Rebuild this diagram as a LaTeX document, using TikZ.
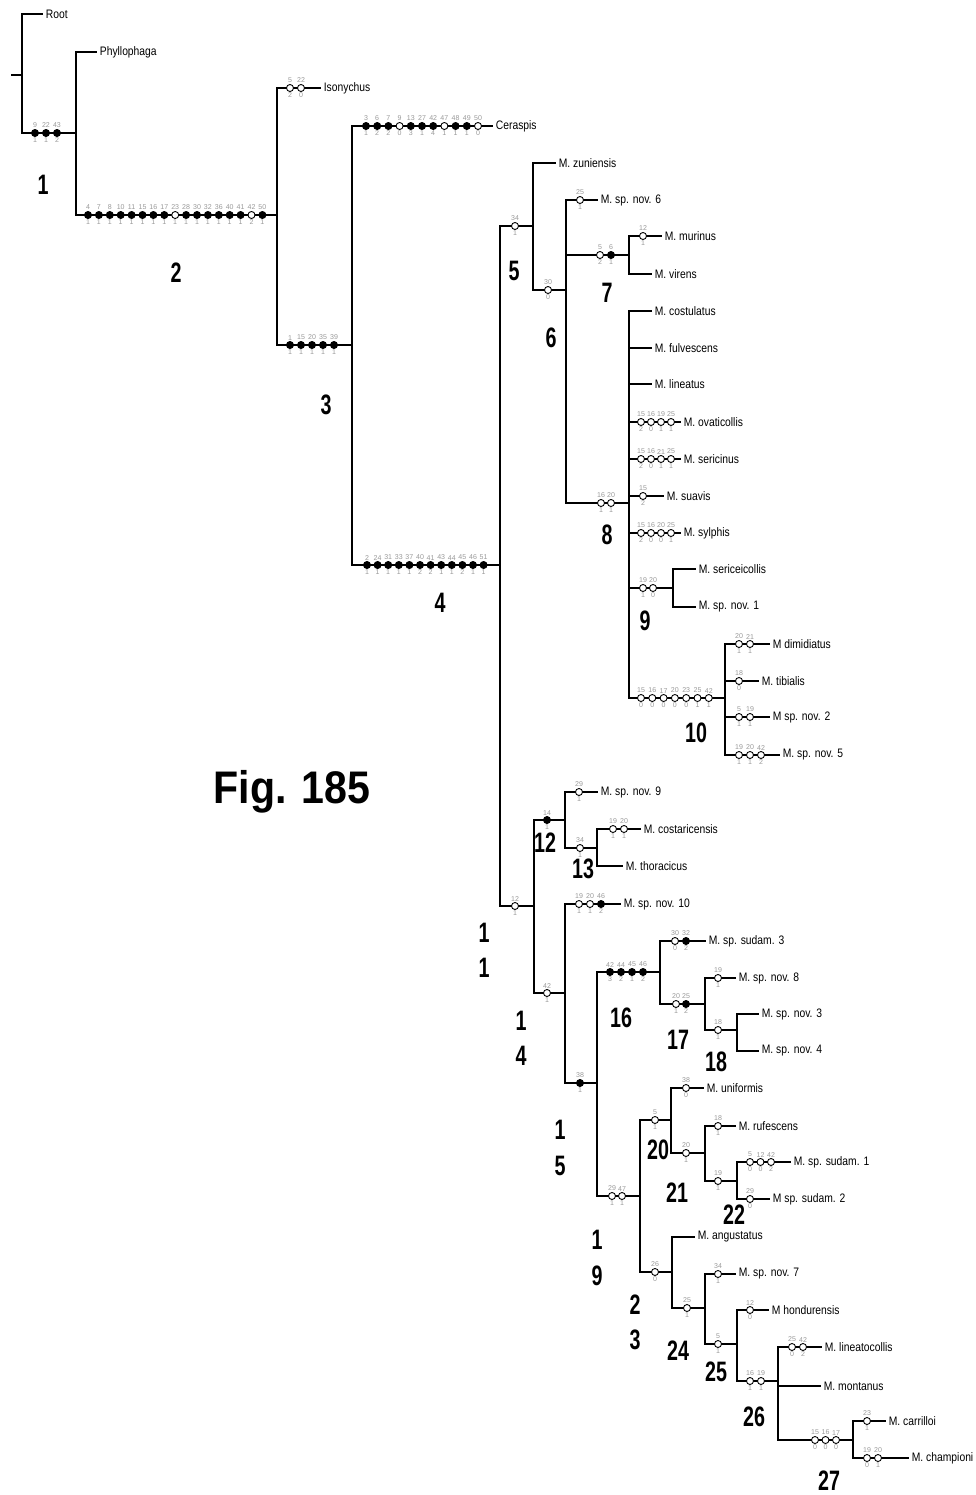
\documentclass[tikz,border=0pt]{standalone}
\usepackage{fontspec}
\setmainfont{Liberation Sans}
\newfontfamily\taxfont[FakeStretch=0.84]{Liberation Sans}
\newfontfamily\cladefont[FakeStretch=0.7]{Liberation Sans}
\newfontfamily\figfont[FakeStretch=0.9]{Liberation Sans}
\usetikzlibrary{positioning}

% one row of character marks on a branch: name, first x, y, spacing, fill/above/below
\newcommand{\charmarks}[5]{%
	\foreach \fl/\hi/\lo [count=\i from 0] in {#5}
		\node[chr, fill=\fl, label={[num]90:\hi}, label={[num]-90:\lo}] (#1-\i) at ({#2+\i*#4},#3) {};}

\begin{document}
\begin{tikzpicture}[x=0.02cm, y=-0.02cm,
		taxon/.style={anchor=west, font=\taxfont\fontsize{7}{8}\selectfont, inner xsep=2pt, inner ysep=1pt},
		clade/.style={font=\cladefont\bfseries\fontsize{16}{20}\selectfont, align=center, inner sep=0pt},
		chr/.style={circle, draw, line width=0.5pt, minimum size=4pt, inner sep=0pt},
		num/.style={font=\fontsize{4}{4}\selectfont, text=black!40, inner sep=0.4pt},
		branch/.style={line width=0.8pt, line cap=rect}]
		\useasboundingbox (0,0) rectangle (976,1495);
		% internal nodes of the tree
		\coordinate (base) at (12,75);
		\coordinate (c0) at (22,75);
		\coordinate (c1) at (76,133);
		\coordinate (c2) at (277,215);
		\coordinate (c3) at (352,345);
		\coordinate (c4) at (500,565);
		\coordinate (c5) at (533,226);
		\coordinate (c6) at (566,290);
		\coordinate (c7) at (629,255);
		\coordinate (c8) at (629,503);
		\coordinate (c9) at (673,588);
		\coordinate (c10) at (725,698);
		\coordinate (c11) at (534,906);
		\coordinate (c12) at (565,820);
		\coordinate (c13) at (597,848);
		\coordinate (c14) at (565,993);
		\coordinate (c15) at (597,1083);
		\coordinate (c16) at (660,972);
		\coordinate (c17) at (705,1004);
		\coordinate (c18) at (737,1030);
		\coordinate (c19) at (640,1196);
		\coordinate (c20) at (671,1120);
		\coordinate (c21) at (705,1153);
		\coordinate (c22) at (737,1181);
		\coordinate (c23) at (672,1272);
		\coordinate (c24) at (705,1308);
		\coordinate (c25) at (737,1344);
		\coordinate (c26) at (778,1381);
		\coordinate (c27) at (853,1440);
		% terminal taxa
		\node[taxon] (root) at (42,14) {Root};
		\node[taxon] (phyl) at (96,52) {Phyllophaga};
		\node[taxon] (ison) at (320,88) {Isonychus};
		\node[taxon] (cera) at (492,126) {Ceraspis};
		\node[taxon] (zuni) at (555,163) {M. zuniensis};
		\node[taxon] (nov6) at (597,200) {M. sp. nov. 6};
		\node[taxon] (muri) at (661,236) {M. murinus};
		\node[taxon] (vire) at (651,274) {M. virens};
		\node[taxon] (cost) at (651,311) {M. costulatus};
		\node[taxon] (fulv) at (651,348) {M. fulvescens};
		\node[taxon] (line) at (651,384) {M. lineatus};
		\node[taxon] (ovat) at (680,422) {M. ovaticollis};
		\node[taxon] (seri) at (680,459) {M. sericinus};
		\node[taxon] (suav) at (663,496) {M. suavis};
		\node[taxon] (sylp) at (680,533) {M. sylphis};
		\node[taxon] (serc) at (695,569) {M. sericeicollis};
		\node[taxon] (nov1) at (695,607) {M. sp. nov. 1};
		\node[taxon] (dimi) at (769,644) {M dimidiatus};
		\node[taxon] (tibi) at (758,681) {M. tibialis};
		\node[taxon] (nov2) at (769,717) {M sp. nov. 2};
		\node[taxon] (nov5) at (779,755) {M. sp. nov. 5};
		\node[taxon] (nov9) at (597,792) {M. sp. nov. 9};
		\node[taxon] (cosr) at (640,829) {M. costaricensis};
		\node[taxon] (thor) at (622,866) {M. thoracicus};
		\node[taxon] (nov10) at (620,904) {M. sp. nov. 10};
		\node[taxon] (sud3) at (705,941) {M. sp. sudam. 3};
		\node[taxon] (nov8) at (735,978) {M. sp. nov. 8};
		\node[taxon] (nov3) at (758,1014) {M. sp. nov. 3};
		\node[taxon] (nov4) at (758,1051) {M. sp. nov. 4};
		\node[taxon] (unif) at (703,1088) {M. uniformis};
		\node[taxon] (rufe) at (735,1126) {M. rufescens};
		\node[taxon] (sud1) at (790,1162) {M. sp. sudam. 1};
		\node[taxon] (sud2) at (769,1199) {M sp. sudam. 2};
		\node[taxon] (angu) at (694,1237) {M. angustatus};
		\node[taxon] (nov7) at (735,1274) {M. sp. nov. 7};
		\node[taxon] (hond) at (768,1310) {M hondurensis};
		\node[taxon] (lina) at (821,1347) {M. lineatocollis};
		\node[taxon] (mont) at (820,1386) {M. montanus};
		\node[taxon] (carr) at (885,1421) {M. carrilloi};
		\node[taxon] (cham) at (908,1458) {M. championi};
		% branches
		\draw[branch] (base) -- (c0);
		\foreach \p/\c in {c0/root.west, c0/c1, c1/phyl.west, c1/c2, c2/ison.west, c2/c3,
				c3/cera.west, c3/c4, c4/c5, c4/c11, c5/zuni.west, c5/c6, c6/nov6.west, c6/c7, c6/c8,
				c7/muri.west, c7/vire.west, c8/cost.west, c8/fulv.west, c8/line.west, c8/ovat.west,
				c8/seri.west, c8/suav.west, c8/sylp.west, c8/c9, c8/c10, c9/serc.west, c9/nov1.west,
				c10/dimi.west, c10/tibi.west, c10/nov2.west, c10/nov5.west, c11/c12, c11/c14,
				c12/nov9.west, c12/c13, c13/cosr.west, c13/thor.west, c14/nov10.west, c14/c15,
				c15/c16, c15/c19, c16/sud3.west, c16/c17, c17/nov8.west, c17/c18, c18/nov3.west,
				c18/nov4.west, c19/c20, c19/c23, c20/unif.west, c20/c21, c21/rufe.west, c21/c22,
				c22/sud1.west, c22/sud2.west, c23/angu.west, c23/c24, c24/nov7.west, c24/c25,
				c25/hond.west, c25/c26, c26/lina.west, c26/mont.west, c26/c27, c27/carr.west,
				c27/cham.west}
			\draw[branch] (\p) |- (\c);
		% character changes
		\charmarks{m1}{35}{133}{11}{black/9/1, black/22/1, black/43/2}
		\charmarks{m2}{88}{215}{10.9}{black/4/1, black/7/1, black/8/1, black/10/1, black/11/1, black/15/1, black/16/1, black/17/1, white/23/1, black/28/1, black/30/1, black/32/1, black/36/1, black/40/1, black/41/1, white/42/2, black/50/1}
		\charmarks{mis}{290}{88}{11}{white/5/2, white/22/0}
		\charmarks{m3}{290}{345}{11}{black/1/1, black/15/1, black/20/1, black/35/1, black/39/1}
		\charmarks{mce}{366}{126}{11.2}{black/3/1, black/6/2, black/7/2, white/9/0, black/13/3, black/27/1, black/42/4, white/47/1, black/48/1, black/49/1, white/50/0}
		\charmarks{m4}{367}{565}{10.6}{black/2/1, black/24/1, black/31/1, black/33/1, black/37/1, black/40/2, black/41/2, black/43/1, black/44/1, black/45/2, black/46/1, black/51/1}
		\charmarks{m5}{515}{226}{0}{white/34/1}
		\charmarks{m6}{548}{290}{0}{white/30/0}
		\charmarks{mn6}{580}{200}{0}{white/25/1}
		\charmarks{m7}{600}{255}{11}{white/5/2, black/6/1}
		\charmarks{mmu}{643}{236}{0}{white/12/1}
		\charmarks{m8}{601}{503}{10}{white/16/1, white/20/1}
		\charmarks{mov}{641}{422}{10}{white/15/2, white/16/0, white/19/1, white/25/1}
		\charmarks{mse}{641}{459}{10}{white/15/2, white/16/0, white/21/1, white/25/1}
		\charmarks{msu}{643}{496}{0}{white/15/2}
		\charmarks{msy}{641}{533}{10}{white/15/2, white/16/0, white/20/0, white/25/1}
		\charmarks{m9}{643}{588}{10}{white/19/1, white/20/0}
		\charmarks{m10}{641}{698}{11.3}{white/15/0, white/16/0, white/17/0, white/20/0, white/23/0, white/25/1, white/42/1}
		\charmarks{mdi}{739}{644}{11}{white/20/1, white/21/1}
		\charmarks{mti}{739}{681}{0}{white/18/0}
		\charmarks{mn2}{739}{717}{11}{white/5/1, white/19/1}
		\charmarks{mn5}{739}{755}{11}{white/19/1, white/20/1, white/42/2}
		\charmarks{m11}{515}{906}{0}{white/12/1}
		\charmarks{m12}{547}{820}{0}{black/14/1}
		\charmarks{mn9}{579}{792}{0}{white/29/1}
		\charmarks{m13}{580}{848}{0}{white/34/1}
		\charmarks{mcr}{613}{829}{11}{white/19/1, white/20/1}
		\charmarks{m14}{547}{993}{0}{white/42/1}
		\charmarks{mn10}{579}{904}{11}{white/19/1, white/20/1, black/46/2}
		\charmarks{m15}{580}{1083}{0}{black/38/1}
		\charmarks{m16}{610}{972}{11}{black/42/3, black/44/2, black/45/1, black/46/2}
		\charmarks{ms3}{675}{941}{11}{white/30/0, black/32/2}
		\charmarks{m17}{676}{1004}{10}{white/20/1, black/25/2}
		\charmarks{mn8}{718}{978}{0}{white/19/1}
		\charmarks{m18}{718}{1030}{0}{white/18/1}
		\charmarks{m19}{612}{1196}{10}{white/29/1, white/47/1}
		\charmarks{m20}{655}{1120}{0}{white/5/1}
		\charmarks{mun}{686}{1088}{0}{white/38/0}
		\charmarks{m21}{686}{1153}{0}{white/20/1}
		\charmarks{mru}{718}{1126}{0}{white/18/1}
		\charmarks{m22}{718}{1181}{0}{white/19/1}
		\charmarks{ms1}{750}{1162}{10.5}{white/5/0, white/12/0, white/42/2}
		\charmarks{ms2}{750}{1199}{0}{white/29/0}
		\charmarks{m23}{655}{1272}{0}{white/26/0}
		\charmarks{m24}{687}{1308}{0}{white/25/1}
		\charmarks{mn7}{718}{1274}{0}{white/34/1}
		\charmarks{m25}{718}{1344}{0}{white/5/1}
		\charmarks{mho}{750}{1310}{0}{white/12/0}
		\charmarks{m26}{750}{1381}{11}{white/16/1, white/19/1}
		\charmarks{mli}{792}{1347}{11}{white/25/0, white/42/2}
		\charmarks{m27}{815}{1440}{10.5}{white/15/0, white/16/0, white/17/0}
		\charmarks{mca}{867}{1421}{0}{white/23/1}
		\charmarks{mch}{867}{1458}{11}{white/19/0, white/20/1}
		% clade numbers
		\node[clade] (l1) at (43,185) {1};
		\node[clade] (l2) at (176,273) {2};
		\node[clade] (l3) at (326,405) {3};
		\node[clade] (l4) at (440,603) {4};
		\node[clade] (l5) at (514,271) {5};
		\node[clade] (l6) at (551,338) {6};
		\node[clade] (l7) at (607,293) {7};
		\node[clade] (l8) at (607,535) {8};
		\node[clade] (l9) at (645,621) {9};
		\node[clade] (l10) at (696,733) {10};
		\node[clade] (l11) at (484,950) {1\\1};
		\node[clade] (l12) at (545,843) {12};
		\node[clade] (l13) at (583,869) {13};
		\node[clade] (l14) at (521,1038) {1\\4};
		\node[clade] (l15) at (560,1148) {1\\5};
		\node[clade] (l16) at (621,1018) {16};
		\node[clade] (l17) at (678,1040) {17};
		\node[clade] (l18) at (716,1062) {18};
		\node[clade] (l19) at (597,1258) {1\\9};
		\node[clade] (l20) at (658,1150) {20};
		\node[clade] (l21) at (677,1193) {21};
		\node[clade] (l22) at (734,1215) {22};
		\node[clade] (l23) at (635,1322) {2\\3};
		\node[clade] (l24) at (678,1351) {24};
		\node[clade] (l25) at (716,1372) {25};
		\node[clade] (l26) at (754,1417) {26};
		\node[clade] (l27) at (829,1481) {27};
		\node[font=\figfont\bfseries\fontsize{26}{30}\selectfont] (fig) at (292,792) {Fig. 185};
	\end{tikzpicture}
\end{document}
